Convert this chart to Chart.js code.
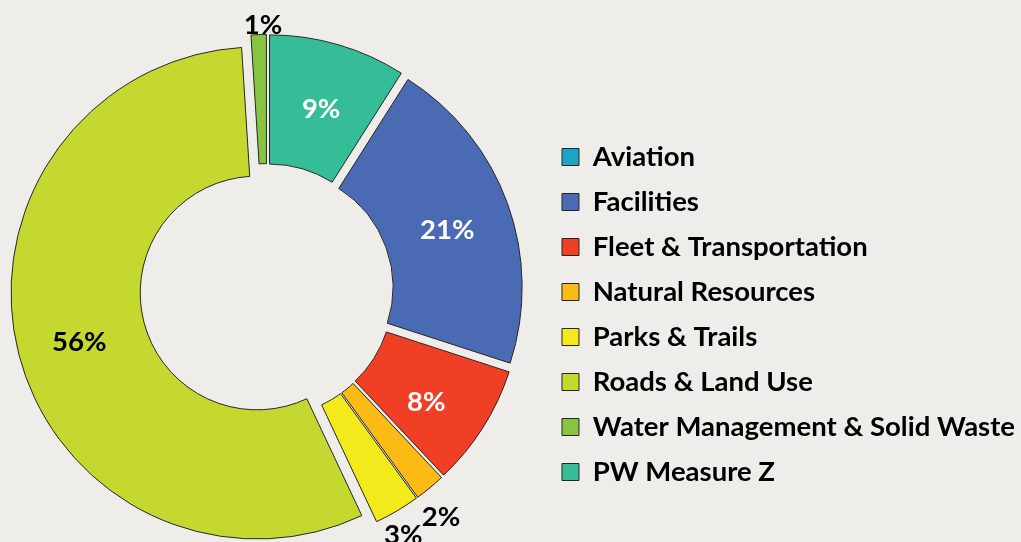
<!DOCTYPE html>
<html>
<head>
<meta charset="utf-8">
<script src="https://cdn.jsdelivr.net/npm/chart.js@4.4.1/dist/chart.umd.min.js"></script>
<style>
  html, body { margin: 0; padding: 0; background: #EEEDEA; }
  #wrap { width: 1021px; height: 542px; }
</style>
</head>
<body>
<div id="wrap"><canvas id="c" width="1021" height="542"></canvas></div>
<script>
// ---- data ----
const categories = ['Aviation', 'Facilities', 'Fleet & Transportation', 'Natural Resources',
  'Parks & Trails', 'Roads & Land Use', 'Water Management & Solid Waste', 'PW Measure Z'];
const shares = [0, 21, 8, 2, 3, 56, 1, 9];
const colors = ['#1AA4C6', '#4A6BB4', '#F03F25', '#FBBA14', '#F2EA1A', '#C5D82F', '#86C441', '#35BD98'];
// label styling per slice: placement, colour, radial adjustment (px), small angular nudge (deg)
const labelPlacement = ['none', 'in', 'in', 'out', 'out', 'in', 'out', 'in'];
const labelColors = ['#000', '#fff', '#fff', '#000', '#000', '#000', '#000', '#fff'];
const labelGap = [0, -0.7, 2.6, 29, 23, 2.8, 10.5, -1];
const labelNudge = [0, 1.0, 2.3, 1.9, 1.3, -0.7, 1.0, 0.4];

const EXPLODE = 10;      // pixel explosion of every slice (pure translation)
const AREA_SHIFT = 11;   // extend plot area to the left so the ring sits like the original
const FONT = 'Lato';
const m = document.createElement('canvas').getContext('2d');
m.font = 'bold 100px ' + FONT;
const fs = Math.round(100 * 425 / m.measureText('Water Management & Solid Waste').width * 2) / 2;
const rowPitch = 45;
const legPad = rowPitch - fs;
const PAD_TOP = 39;
const titleH = 157 - PAD_TOP - legPad - fs / 2;

const total = shares.reduce((a, b) => a + b, 0);
const lastShare = shares[shares.length - 1];

// Arc element whose "explosion" is a pure translation along the slice bisector (like Excel)
const BaseArc = Chart.ArcElement || Chart.elements.ArcElement;
const BaseDoughnut = Chart.DoughnutController || Chart.controllers.DoughnutController;
class ExplodedArc extends BaseArc {
  draw(ctx) {
    const mid = (this.startAngle + this.endAngle) / 2;
    ctx.save();
    ctx.translate(Math.cos(mid) * EXPLODE, Math.sin(mid) * EXPLODE);
    super.draw(ctx);
    ctx.restore();
  }
}
ExplodedArc.id = 'explodedArc';
ExplodedArc.defaults = Object.assign({}, BaseArc.defaults);
class ExplodedDoughnut extends BaseDoughnut {}
ExplodedDoughnut.id = 'explodedDoughnut';
ExplodedDoughnut.defaults = Object.assign({}, BaseDoughnut.defaults, { dataElementType: 'explodedArc' });
Chart.register(ExplodedArc, ExplodedDoughnut);

const areaPlugin = {
  id: 'areaShift',
  afterLayout(chart) {
    const a = chart.chartArea;
    a.left -= AREA_SHIFT;
    a.width = a.right - a.left;
  }
};

const labelPlugin = {
  id: 'sliceLabels',
  afterDatasetsDraw(chart) {
    const ctx = chart.ctx;
    const meta = chart.getDatasetMeta(0);
    ctx.save();
    ctx.font = 'bold ' + fs + 'px ' + FONT;
    ctx.textAlign = 'center';
    ctx.textBaseline = 'alphabetic';
    const capHalf = 0.358 * fs;
    meta.data.forEach((arc, i) => {
      const v = chart.data.datasets[0].data[i];
      if (!v || labelPlacement[i] === 'none') return;
      const p = arc.getProps(['x', 'y', 'startAngle', 'endAngle', 'innerRadius', 'outerRadius'], true);
      const mid = (p.startAngle + p.endAngle) / 2 + labelNudge[i] * Math.PI / 180;
      const base = labelPlacement[i] === 'in'
        ? (p.innerRadius + p.outerRadius) / 2 + EXPLODE
        : p.outerRadius + EXPLODE;
      const r = base + labelGap[i];
      ctx.fillStyle = labelColors[i];
      ctx.fillText(Math.round(v / total * 100) + '%', p.x + Math.cos(mid) * r, p.y + Math.sin(mid) * r + capHalf);
    });
    ctx.restore();
  }
};

new Chart(document.getElementById('c'), {
  type: 'explodedDoughnut',
  data: {
    labels: categories,
    datasets: [{
      data: shares,
      backgroundColor: colors,
      borderColor: '#262626',
      borderWidth: 1,
      offset: 0,
      hoverOffset: 0
    }]
  },
  options: {
    responsive: false,
    animation: false,
    events: [],
    radius: 246,
    cutout: '47.5%',
    rotation: lastShare / total * 360,
    layout: { padding: { top: PAD_TOP, left: 0, right: -4, bottom: 0 } },
    plugins: {
      tooltip: { enabled: false },
      legend: {
        position: 'right',
        align: 'start',
        title: { display: true, text: ' ', padding: { top: titleH - 10, bottom: 0 }, font: { size: 10, lineHeight: 1 } },
        labels: {
          boxWidth: 17,
          boxHeight: 17,
          padding: legPad,
          color: '#000',
          font: { family: FONT, weight: 'bold', size: fs }
        }
      }
    }
  },
  plugins: [areaPlugin, labelPlugin]
});
</script>
</body>
</html>
